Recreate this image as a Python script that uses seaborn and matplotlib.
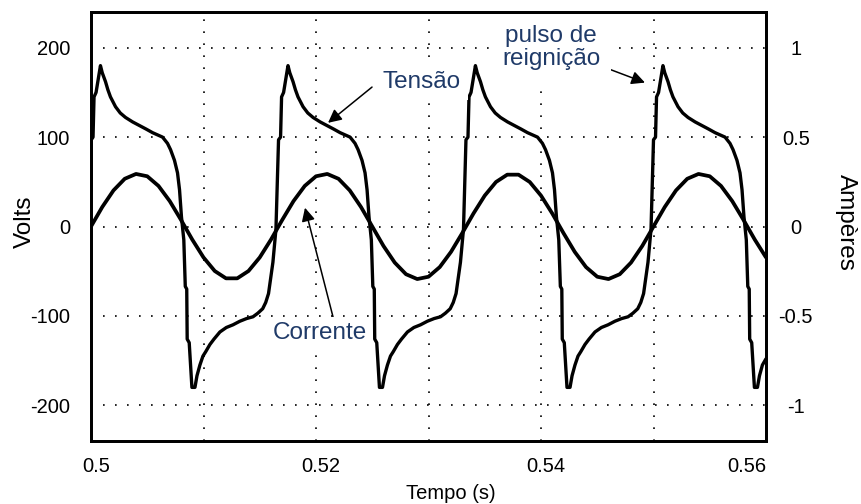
import matplotlib
matplotlib.use("Agg")
import matplotlib.pyplot as plt
import matplotlib.transforms as mtransforms
import seaborn as sns

# Arc voltage (V) over time (s), one row per half cycle
volt_time = [
    0.50000, 0.50002, 0.50018, 0.50027, 0.50045, 0.50084, 0.50100, 0.50129, 0.50150, 0.50173,
    0.50218, 0.50260, 0.50307, 0.50370, 0.50431, 0.50490, 0.50547, 0.50600, 0.50636, 0.50680,
    0.50707, 0.50742, 0.50769, 0.50787, 0.50804, 0.50825,
    0.50838, 0.50851, 0.50855, 0.50873, 0.50897, 0.50924, 0.50942, 0.50968, 0.50995, 0.51020,
    0.51057, 0.51093, 0.51146, 0.51203, 0.51262, 0.51323, 0.51383, 0.51440, 0.51483, 0.51526,
    0.51553, 0.51578, 0.51595, 0.51617, 0.51644,
    0.51667, 0.51685, 0.51694, 0.51712, 0.51751, 0.51767, 0.51796, 0.51817, 0.51840, 0.51885,
    0.51927, 0.51974, 0.52037, 0.52098, 0.52157, 0.52214, 0.52267, 0.52303, 0.52347, 0.52374,
    0.52409, 0.52436, 0.52454, 0.52471, 0.52492,
    0.52505, 0.52518, 0.52522, 0.52540, 0.52564, 0.52591, 0.52609, 0.52635, 0.52662, 0.52687,
    0.52724, 0.52760, 0.52813, 0.52870, 0.52929, 0.52990, 0.53050, 0.53107, 0.53150, 0.53193,
    0.53220, 0.53245, 0.53262, 0.53284, 0.53311,
    0.53333, 0.53351, 0.53360, 0.53378, 0.53417, 0.53433, 0.53462, 0.53483, 0.53506, 0.53551,
    0.53593, 0.53640, 0.53703, 0.53764, 0.53823, 0.53880, 0.53933, 0.53969, 0.54013, 0.54040,
    0.54075, 0.54102, 0.54120, 0.54137, 0.54158,
    0.54172, 0.54185, 0.54189, 0.54207, 0.54231, 0.54258, 0.54276, 0.54302, 0.54329, 0.54354,
    0.54391, 0.54427, 0.54480, 0.54537, 0.54596, 0.54657, 0.54717, 0.54774, 0.54817, 0.54860,
    0.54887, 0.54912, 0.54929, 0.54951, 0.54978,
    0.55000, 0.55018, 0.55027, 0.55045, 0.55084, 0.55100, 0.55129, 0.55150, 0.55173, 0.55218,
    0.55260, 0.55307, 0.55370, 0.55431, 0.55490, 0.55547, 0.55600, 0.55636, 0.55680, 0.55707,
    0.55742, 0.55769, 0.55787, 0.55804, 0.55825,
    0.55838, 0.55851, 0.55855, 0.55873, 0.55897, 0.55924, 0.55942, 0.55968, 0.56000,
]
volt_value = [
    40, 97, 100, 145, 150, 180, 172, 162, 153, 145,
    134, 127, 122, 117, 113, 109, 105, 102, 100, 93,
    86, 74, 60, 41, 11, -15,
    -67, -70, -126, -130, -180, -180, -167, -155, -145, -140,
    -132, -126, -118, -113, -110, -106, -103, -101, -97, -92,
    -85, -75, -60, -40, -3,
    97, 100, 145, 150, 180, 172, 162, 153, 145, 134,
    127, 122, 117, 113, 109, 105, 102, 100, 93, 86,
    74, 60, 41, 11, -15,
    -67, -70, -126, -130, -180, -180, -167, -155, -145, -140,
    -132, -126, -118, -113, -110, -106, -103, -101, -97, -92,
    -85, -75, -60, -40, -3,
    97, 100, 145, 150, 180, 172, 162, 153, 145, 134,
    127, 122, 117, 113, 109, 105, 102, 100, 93, 86,
    74, 60, 41, 11, -15,
    -67, -70, -126, -130, -180, -180, -167, -155, -145, -140,
    -132, -126, -118, -113, -110, -106, -103, -101, -97, -92,
    -85, -75, -60, -40, -3,
    97, 100, 145, 150, 180, 172, 162, 153, 145, 134,
    127, 122, 117, 113, 109, 105, 102, 100, 93, 86,
    74, 60, 41, 11, -15,
    -67, -70, -126, -130, -180, -180, -167, -155, -148,
]

# Lamp current (A), sampled every millisecond
cur_time = [
    0.500, 0.501, 0.502, 0.503, 0.504, 0.505, 0.506, 0.507, 0.508, 0.509,
    0.510, 0.511, 0.512, 0.513, 0.514, 0.515, 0.516, 0.517, 0.518, 0.519,
    0.520, 0.521, 0.522, 0.523, 0.524, 0.525, 0.526, 0.527, 0.528, 0.529,
    0.530, 0.531, 0.532, 0.533, 0.534, 0.535, 0.536, 0.537, 0.538, 0.539,
    0.540, 0.541, 0.542, 0.543, 0.544, 0.545, 0.546, 0.547, 0.548, 0.549,
    0.550, 0.551, 0.552, 0.553, 0.554, 0.555, 0.556, 0.557, 0.558, 0.559,
    0.560,
]
cur_value = [
    0.000, 0.109, 0.202, 0.267, 0.294, 0.281, 0.227, 0.142, 0.037, -0.073,
    -0.173, -0.249, -0.290, -0.290, -0.249, -0.173, -0.073, 0.037, 0.142, 0.227,
    0.281, 0.294, 0.267, 0.202, 0.109, 0.000, -0.109, -0.202, -0.267, -0.294,
    -0.281, -0.227, -0.142, -0.037, 0.073, 0.173, 0.249, 0.290, 0.290, 0.249,
    0.173, 0.073, -0.037, -0.142, -0.227, -0.281, -0.294, -0.267, -0.202, -0.109,
    0.000, 0.109, 0.202, 0.267, 0.294, 0.281, 0.227, 0.142, 0.037, -0.073,
    -0.173,
]

x_ticks = [0.50, 0.51, 0.52, 0.53, 0.54, 0.55, 0.56]
x_tick_labels = ["0.5", "", "0.52", "", "0.54", "", "0.56"]
volt_ticks = [-200, -100, 0, 100, 200]
amp_ticks = [-1, -0.5, 0, 0.5, 1]
amp_tick_labels = ["-1", "-0.5", "0", "0.5", "1"]

sns.set_theme(style="white")
plt.rcParams["font.family"] = ["Liberation Sans", "DejaVu Sans"]
plt.rcParams["axes.unicode_minus"] = False
for key in ("text.color", "axes.labelcolor", "xtick.color", "ytick.color"):
    plt.rcParams[key] = "black"

NAVY = "#1f3a68"

fig = plt.figure(figsize=(8.61, 5.04), dpi=100)
ax = fig.add_axes([91 / 861, 1 - 441 / 504, 675 / 861, 429 / 504])
ax2 = ax.twinx()

sns.lineplot(x=volt_time, y=volt_value, ax=ax, color="black", linewidth=2.4,
             sort=False, estimator=None)
sns.lineplot(x=cur_time, y=cur_value, ax=ax2, color="black", linewidth=2.7,
             sort=False, estimator=None)

ax.set_xlim(0.5, 0.56)
ax.set_ylim(-240, 240)
ax2.set_ylim(-1.2, 1.2)

ax.set_xticks(x_ticks)
ax.set_xticklabels(x_tick_labels, fontsize=14.5)
ax.set_yticks(volt_ticks)
ax.set_yticklabels([str(v) for v in volt_ticks], fontsize=14.5)
ax2.set_yticks(amp_ticks)
ax2.set_yticklabels(amp_tick_labels, fontsize=14.5, ha="center")

ax.tick_params(axis="x", length=0, pad=11.5)
ax.tick_params(axis="y", length=0, pad=15)
ax2.tick_params(axis="y", length=0, pad=21.5)

# Time labels sit slightly right of their grid lines; the last one is kept inside the frame
nudge = mtransforms.ScaledTranslation(5 / 100, 0, fig.dpi_scale_trans)
xlabels = ax.get_xticklabels()
for lbl in xlabels[:-1]:
    lbl.set_transform(lbl.get_transform() + nudge)
xlabels[-1].set_horizontalalignment("right")

ax.grid(True, color="black", linestyle=(0, (1, 6.2)), linewidth=1.2)
ax.set_axisbelow(True)
ax2.grid(False)

for a in (ax, ax2):
    for s in a.spines.values():
        s.set_visible(True)
        s.set_color("black")
        s.set_linewidth(2.0)

ax.set_xlabel("Tempo (s)", fontsize=14.5)
ax.xaxis.set_label_coords((451 - 91) / 675, -0.100)
ax.set_ylabel("Volts", fontsize=17.5)
ax.yaxis.set_label_coords((36 - 91) / 675, (441 - 222) / 429)
ax2.set_ylabel("Ampères", fontsize=17.5, rotation=270, va="bottom")
ax2.yaxis.set_label_coords((835 - 91) / 675, (441 - 222) / 429)

# Callouts
text_kw = dict(color=NAVY, fontsize=17.5, ha="center", va="center", zorder=4)
arrow_kw = dict(arrowstyle="-|>", color="black", lw=1.1, mutation_scale=20,
                shrinkA=0, shrinkB=0)

ax.text(0.52942, 162, "Tensão",
        bbox=dict(boxstyle="square,pad=0.3", fc="white", ec="none"), **text_kw)
ax.annotate("", xy=(0.52107, 116), xytext=(0.52498, 156), arrowprops=arrow_kw)

ax.text(0.52036, -119, "Corrente",
        bbox=dict(boxstyle="square,pad=0.2", fc="white", ec="none"), **text_kw)
ax.annotate("", xy=(0.51902, 21), xytext=(0.52151, -101), arrowprops=arrow_kw)

ax.text(0.54089, 200, "pulso de\nreignição", linespacing=1.05,
        bbox=dict(boxstyle="square,pad=0.45", fc="white", ec="none"), **text_kw)
ax.annotate("", xy=(0.54924, 161), xytext=(0.54587, 177), arrowprops=arrow_kw)

fig.savefig("out.png", dpi=100)
